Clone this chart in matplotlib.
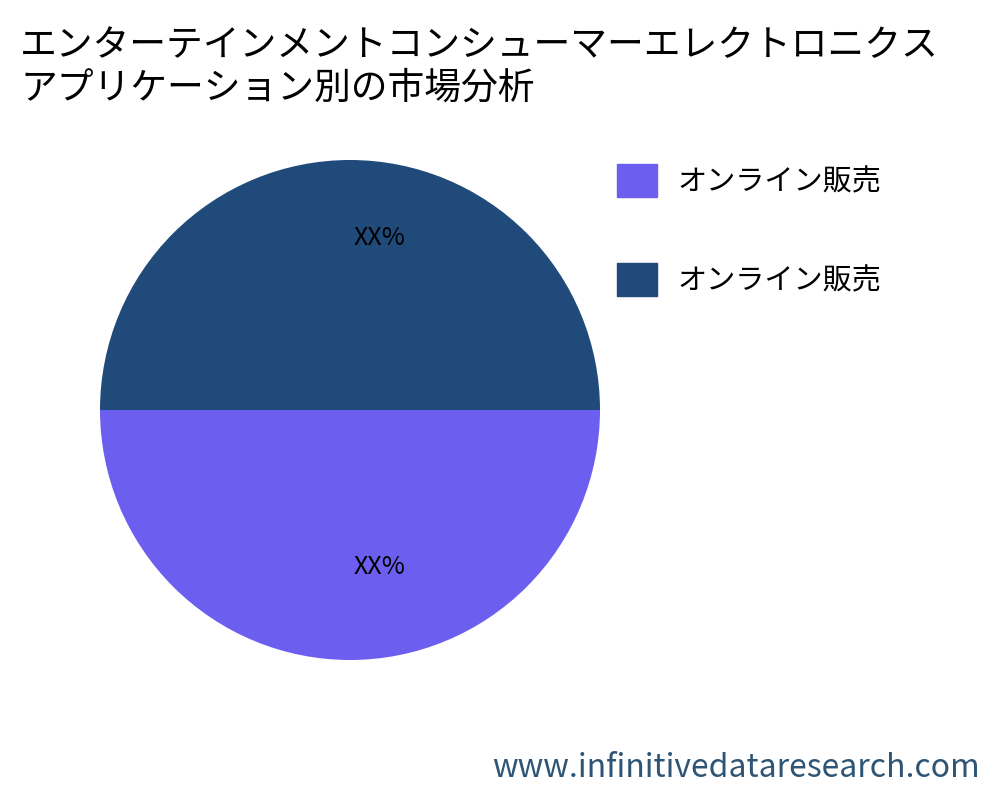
import matplotlib
matplotlib.use("Agg")
import matplotlib.pyplot as plt
from matplotlib.patches import Patch

plt.rcParams['font.family'] = ['Noto Sans CJK JP', 'DejaVu Sans']

labels = ["オンライン販売", "オンライン販売"]
values = [50, 50]
colors = ["#6C5FF0", "#1F4A7A"]
pct_labels = ["XX%", "XX%"]

fig = plt.figure(figsize=(10, 8), dpi=100)
ax = fig.add_axes([0.1, 0.175, 0.5, 0.625])
wedges, texts = ax.pie(values, colors=colors, startangle=180, counterclock=True,
                       labels=pct_labels, labeldistance=0.66,
                       textprops={"fontsize": 18, "color": "black", "ha": "center", "va": "center"})
for t in texts:
    x, y = t.get_position()
    t.set_position((x + 0.12, y + 0.03))
ax.set_xlim(-1, 1)
ax.set_ylim(-1, 1)
ax.set_aspect("equal")

fig.text(0.02, 0.968, "エンターテインメントコンシューマーエレクトロニクス\nアプリケーション別の市場分析",
         fontsize=26.5, va="top", ha="left", linespacing=1.15)

handles = [Patch(color=colors[0]), Patch(color=colors[1])]
fig.legend(handles, labels, loc="upper left", bbox_to_anchor=(0.591, 0.828),
           frameon=False, fontsize=21, handlelength=1.37, handleheight=1.37,
           labelspacing=2.25, handletextpad=0.7)

fig.text(0.98, 0.02, "www.infinitivedataresearch.com", fontsize=23,
         color="#2E5575", ha="right", va="bottom")

fig.savefig("out.png", dpi=100)
